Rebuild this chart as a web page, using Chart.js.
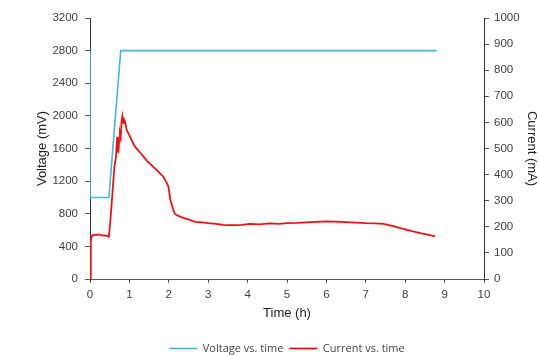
<!DOCTYPE html>
<html>
<head>
<meta charset="utf-8">
<script src="https://cdn.jsdelivr.net/npm/chart.js@4/dist/chart.umd.min.js"></script>
<style>
  html, body { margin: 0; padding: 0; background: #fff; }
  #wrap { width: 539px; height: 355px; }
</style>
</head>
<body>
<div id="wrap"><canvas id="chart" width="539" height="355"></canvas></div>
<script>
// voltage (mV) vs time (h)
const voltageTime = [0, 0, 0.48, 0.78, 8.8];
const voltageValues = [2800, 1000, 1000, 2800, 2800];

// current (mA) vs time (h)
const currentTime = [0, 0.02, 0.05, 0.1, 0.15, 0.2, 0.25, 0.3, 0.35, 0.4, 0.45, 0.48, 0.52, 0.57,
  0.62, 0.66, 0.69, 0.71, 0.72, 0.74, 0.76, 0.78, 0.8, 0.82, 0.84, 0.86, 0.89, 0.93,
  1.0, 1.14, 1.3, 1.45, 1.56, 1.7, 1.86, 1.93, 1.99, 2.04, 2.09, 2.15, 2.2, 2.3, 2.41, 2.55,
  2.66, 2.79, 3.0, 3.2, 3.38, 3.6, 3.85, 4.06, 4.3, 4.57, 4.8, 5.0, 5.25, 5.5, 5.75, 6.0,
  6.25, 6.5, 6.75, 7.0, 7.25, 7.45, 7.7, 7.95, 8.15, 8.38, 8.6, 8.76];
const currentValues = [0, 150, 165, 170, 168, 171, 169, 168, 166, 167, 164, 162, 230, 330,
  430, 470, 545, 500, 483, 530, 559, 545, 600, 622, 598, 612, 603, 571,
  550, 507, 480, 452, 436, 416, 392, 373, 354, 303, 277, 250, 245, 238, 232, 226,
  219, 218, 214, 211, 207, 206, 207, 211, 209, 213, 211, 214, 215, 217, 219, 221,
  220, 218, 216, 214, 213, 211, 203, 192, 184, 176, 169, 163];

const xTicks = [0, 1, 2, 3, 4, 5, 6, 7, 8, 9, 10];

const toPoints = (xs, ys) => xs.map((x, i) => ({ x: x, y: ys[i] }));

const axisColor = "#555555";
const tickColor = "#404040";
const tickFont = { family: "Liberation Sans, Arial, sans-serif", size: 11.5 };
const titleFont = { family: "Liberation Sans, Arial, sans-serif", size: 13 };
const plain = v => String(v);

new Chart(document.getElementById("chart").getContext("2d"), {
  type: "line",
  data: {
    datasets: [{
      label: "Voltage vs. time",
      data: toPoints(voltageTime, voltageValues),
      yAxisID: "y",
      borderColor: "#45b6d9",
      backgroundColor: "#45b6d9",
      borderWidth: 1.6,
      pointRadius: 0,
      tension: 0
    }, {
      label: "Current vs. time",
      data: toPoints(currentTime, currentValues),
      yAxisID: "y1",
      borderColor: "#ee1111",
      backgroundColor: "#ee1111",
      borderWidth: 1.8,
      pointRadius: 0,
      tension: 0
    }]
  },
  options: {
    responsive: false,
    animation: false,
    layout: { padding: { top: 18, left: 0, right: 0, bottom: -9 } },
    scales: {
      x: {
        type: "linear",
        min: 0,
        max: 10,
        afterBuildTicks: s => { s.ticks = xTicks.map(v => ({ value: v })); },
        afterFit: s => { s.height = 58; },
        grid: { drawOnChartArea: false, tickLength: 4, color: axisColor },
        border: { color: axisColor, width: 1 },
        ticks: { color: tickColor, font: tickFont, padding: 5, maxRotation: 0, callback: plain },
        title: { display: true, text: "Time (h)", color: "#222", font: titleFont, padding: { top: 4, bottom: 16 } }
      },
      y: {
        position: "left",
        min: 0,
        max: 3200,
        afterFit: s => { s.width = 90; },
        grid: { drawOnChartArea: false, tickLength: 5, color: axisColor },
        border: { color: "#333", width: 1 },
        ticks: { stepSize: 400, color: tickColor, font: tickFont, padding: 7, callback: plain },
        title: { display: true, text: "Voltage (mV)", color: "#222", font: titleFont, padding: { top: 35 } }
      },
      y1: {
        position: "right",
        min: 0,
        max: 1000,
        afterFit: s => { s.width = 55; },
        grid: { drawOnChartArea: false, tickLength: 5, color: axisColor },
        border: { color: "#333", width: 1 },
        ticks: { stepSize: 100, color: tickColor, font: tickFont, padding: 5, callback: plain },
        title: { display: true, text: "Current (mA)", color: "#222", font: titleFont, padding: { top: 0 } }
      }
    },
    plugins: {
      legend: {
        position: "bottom",
        fullSize: false,
        labels: {
          usePointStyle: true,
          pointStyle: "line",
          pointStyleWidth: 28,
          boxWidth: 28,
          boxHeight: 9,
          padding: 6,
          color: "#444",
          font: { family: "Open Sans, sans-serif", size: 11 }
        }
      },
      tooltip: { enabled: false }
    }
  }
});
</script>
</body>
</html>
